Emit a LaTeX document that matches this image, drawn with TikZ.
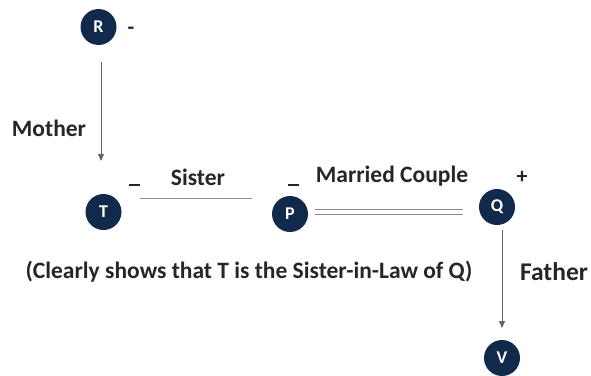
\documentclass[tikz,border=0pt]{standalone}
\usepackage{fontspec}
\setmainfont{Carlito}
\usetikzlibrary{arrows.meta}
\definecolor{navy}{HTML}{112A4C}
\definecolor{lgray}{HTML}{8C8C8C}
\begin{document}
\begin{tikzpicture}[x=1pt,y=-1pt,
  person/.style={circle,fill=navy,text=white,inner sep=0pt,minimum size=36pt,font=\fontsize{18}{20}\selectfont\bfseries},
  lbl/.style={inner sep=0pt,font=\fontsize{23.5}{26}\selectfont\bfseries,text=black!85},
  big/.style={lbl,font=\fontsize{25.5}{28}\selectfont\bfseries},
  sign/.style={inner sep=0pt,font=\fontsize{22}{24}\selectfont\bfseries,text=black!85},
  rel/.style={draw=lgray,line width=1pt},
  arr/.style={draw=black!60,line width=1pt,-{Triangle[length=7pt,width=6pt]}}]
\useasboundingbox (0,0) rectangle (591,375);
\node[person] (R) at (98.5,27) {R};
\node[person] (T) at (103.5,212) {T};
\node[person] (P) at (290,214) {P};
\node[person] (Q) at (497,207) {Q};
\node[person] (V) at (502,358) {V};
\coordinate (ra) at (101,62);
\coordinate (rb) at (101,161);
\coordinate (qa) at (502,230);
\coordinate (qb) at (502,328);
\draw[arr] (ra) -- (rb);
\draw[arr] (qa) -- (qb);
\coordinate (s1) at (140,198);
\coordinate (s2) at (252,198);
\draw[rel] (s1) -- (s2);
\coordinate (m1) at (315,209);
\coordinate (m2) at (463,209);
\coordinate (n1) at (315,214);
\coordinate (n2) at (463,214);
\draw[rel] (m1) -- (m2);
\draw[rel] (n1) -- (n2);
\node[sign] (rs) at (131,31) {-};
\node[sign] (ts) at (134,185) {\rule{11pt}{1.6pt}};
\node[sign] (ps) at (293,185) {\rule{11pt}{1.6pt}};
\node[sign] (qs) at (522,177) {+};
\node[lbl] (mo) at (49,128) {Mother};
\node[lbl] (si) at (198,177) {Sister};
\node[lbl] (mc) at (392,176) {Married Couple};
\node[big] (fa) at (554,272) {Father};
\node[lbl] (cl) at (249,272) {(Clearly shows that T is the Sister-in-Law of Q)};
\end{tikzpicture}
\end{document}
